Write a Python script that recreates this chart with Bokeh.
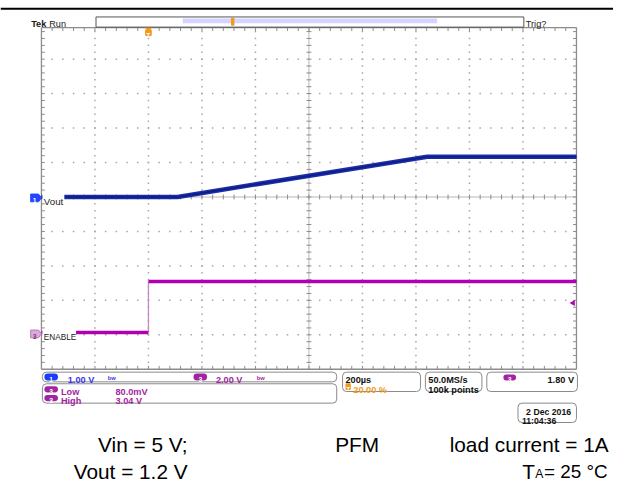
import math
from bokeh.plotting import figure
from bokeh.models import Range1d, Label, BoxAnnotation
from bokeh.embed import file_html
from bokeh.resources import INLINE

# ---------------- data ----------------
vout_t_us = [-400, 109, 1042, 1600]        # CH1 Vout, time in microseconds
vout_v = [0.0, 0.0, 1.17, 1.17]            # volts
enable_t_us = [-400, 0, 0, 1600]           # CH3 ENABLE
enable_v = [0.08, 0.08, 3.04, 3.04]        # volts
trigger_level_v = 1.80
ch1_v_per_div = 1.00
ch3_v_per_div = 2.00
time_per_div_us = 200
trigger_pos_pct = 20.0
ch3_low_text = "80.0mV"
ch3_high_text = "3.04 V"
caption_left = ["Vin = 5 V;", "Vout = 1.2 V"]
caption_mid = "PFM"
caption_right = "load current = 1A"

# ---------------- layout (reference pixel coordinates, 629 x 498) ----------------
W, H = 613, 482
RW, RH = 629, 498
FS = H / RH                   # font scale
GL, GR = 42.0, 591.0          # graticule left/right
GT_VIS = 28.0                 # visible top of graticule
GC_Y = 203.0                  # centre line (CH1 ground)
DIV_Y = 35.6
GB = GC_Y + 5 * DIV_Y
DIV_X = (GR - GL) / 10.0
GC_X = (GL + GR) / 2.0
EN_Y = 344.5                  # CH3 ground marker

def t_of(px):
    return (px - GL) / DIV_X * time_per_div_us - trigger_pos_pct / 100.0 * 10 * time_per_div_us

def v1_of(py):
    return (GC_Y - py) / DIV_Y * ch1_v_per_div

def v3_of(py):
    return (EN_Y - py) / DIV_Y * ch3_v_per_div

p = figure(width=W, height=H, output_backend="svg", toolbar_location=None,
           x_range=Range1d(0, RW), y_range=Range1d(RH, 0),
           x_axis_location=None, y_axis_location=None, min_border=0,
           background_fill_color="white", border_fill_color="white")
p.outline_line_color = None
p.grid.visible = False
p.extra_x_ranges = {"t": Range1d(t_of(0), t_of(RW))}
p.extra_y_ranges = {"v1": Range1d(v1_of(RH), v1_of(0)),
                    "v3": Range1d(v3_of(RH), v3_of(0))}

GRID = "#a6a6a6"
BORDER = "#8c8c8c"

# dotted graticule
dx, dy = [], []
for i in range(1, 10):
    if i == 5:
        continue
    x = GL + i * DIV_X
    for k in range(-25, 26):
        y = GC_Y + k * DIV_Y / 5
        if GT_VIS + 2 < y < GB - 2:
            dx.append(x); dy.append(y)
for j in range(-4, 5):
    if j == 0:
        continue
    y = GC_Y + j * DIV_Y
    for k in range(1, 50):
        dx.append(GL + k * DIV_X / 5); dy.append(y)
p.scatter(dx, dy, marker="square", size=1.5, color=GRID, line_color=None)

# centre cross lines with ticks
p.segment([GC_X, GL], [GT_VIS, GC_Y], [GC_X, GR], [GB, GC_Y], color="#b8b8b8", line_width=1)
sx0, sy0, sx1, sy1 = [], [], [], []
for k in range(-25, 26):
    y = GC_Y + k * DIV_Y / 5
    if GT_VIS < y < GB:
        sx0 += [GC_X - 2.5, GL, GR]; sx1 += [GC_X + 2.5, GL + 3.5, GR - 3.5]
        sy0 += [y, y, y]; sy1 += [y, y, y]
for k in range(1, 50):
    x = GL + k * DIV_X / 5
    sx0 += [x, x, x]; sx1 += [x, x, x]
    sy0 += [GC_Y - 2.5, GT_VIS, GB]; sy1 += [GC_Y + 2.5, GT_VIS + 3.5, GB - 3.5]
p.segment(sx0, sy0, sx1, sy1, color=BORDER, line_width=1)
# border
p.segment([GL, GR, GL, GL], [GT_VIS, GT_VIS, GT_VIS, GB], [GL, GR, GR, GR], [GB, GB, GT_VIS, GB],
          color=BORDER, line_width=1.3)

# ---------------- traces ----------------
p.line(vout_t_us, vout_v, x_range_name="t", y_range_name="v1", color="#1b2ea6", line_width=4.5)
p.line(vout_t_us, vout_v, x_range_name="t", y_range_name="v1", color="#0f1c86", line_width=1.5)
p.line(enable_t_us[1:3], enable_v[1:3], x_range_name="t", y_range_name="v3", color="#c78ac7", line_width=1.3)
p.line(enable_t_us[0:2], enable_v[0:2], x_range_name="t", y_range_name="v3", color="#b000b0", line_width=3.5)
p.line(enable_t_us[2:4], enable_v[2:4], x_range_name="t", y_range_name="v3", color="#b000b0", line_width=3.5)
# trigger level marker on right edge
p.scatter([GR - 3.5], [trigger_level_v], y_range_name="v3", marker="triangle", angle=math.pi / 2,
          size=6, color="#b000b0", line_color=None)

# ---------------- helpers ----------------
def box(l, r, t, b, fill="white", line="#8a8a8a", radius=4, lw=1):
    p.add_layout(BoxAnnotation(left=l, right=r, top=t, bottom=b, fill_color=fill, fill_alpha=1,
                               line_color=line, line_width=lw, line_alpha=1 if line else 0,
                               border_radius=int(radius), level="annotation"))

def txt(x, y, s, color="#000000", size=9.5, bold=False, align="left", font="Liberation Sans"):
    p.add_layout(Label(x=x, y=y, text=s, text_color=color, text_font_size=f"{size * FS:.2f}px",
                       text_font_style="bold" if bold else "normal", text_align=align,
                       text_baseline="alphabetic", text_font=font, level="annotation"))

BLUE_T = "#3838f0"
PURP = "#a324a3"
ORANGE = "#f19b1c"

# channel labels on left
box(43, 65.5, 198.5, 208.5, fill="white", line=None, radius=0)
txt(44.5, 207.5, "Vout", "#222222", 10)
box(43, 77.5, 339.5, 349.5, fill="white", line=None, radius=0)
txt(44.5, 348, "ENABLE", "#222222", 8.5)
p.patch([31, 39, 42, 39, 31], [200, 200, 204, 208, 208], fill_color="#2245ff", line_color="#2245ff")
txt(35, 206.8, "1", "white", 7, True, "center")
p.patch([31, 39, 42, 39, 31], [340.5, 340.5, 344.5, 348.5, 348.5], fill_color="#dcaadc", line_color="#b878b8")
txt(35, 347.3, "3", "#704070", 7, True, "center")

# header
p.segment([0], [8.5], [RW], [8.5], color="black", line_width=2)
txt(31.5, 24, "Tek", "#1a1a1a", 9.5, True)
txt(50, 24, "Run", "#1a1a1a", 9.5)
box(98, 537, 17, 27.5, fill="white", line="#555555", radius=0)
box(187, 448, 18.5, 23.5, fill="#d4d4ff", line=None, radius=0)
p.segment([187], [21], [448], [21], color="#7474ea", line_width=1.5)
p.segment([186, 449], [17, 17], [186, 449], [27.5, 27.5], color="#333333", line_width=2)
box(236.5, 240, 17.5, 26, fill=ORANGE, line=None, radius=1)
txt(539, 24, "Trig?", "#1a1a1a", 9.5)

# trigger position marker on graticule
trig_x = GL + trigger_pos_pct / 100.0 * (GR - GL)
p.patch([trig_x - 4, trig_x + 4, trig_x], [27.5, 27.5, 31], fill_color=ORANGE, line_color=ORANGE)
box(trig_x - 3.5, trig_x + 3.5, 29.5, 37, fill=ORANGE, line=None, radius=2)
txt(trig_x, 35.8, "T", "white", 7, True, "center")

# ---------------- status bar ----------------
def pill(l, r, t, b, fill, label):
    box(l, r, t, b, fill=fill, line=None, radius=4)
    txt((l + r) / 2, b - 1.2, label, "white", 7, True, "center")

box(43, 345, 384, 394)
pill(45, 59, 385.5, 392.5, "#1a3cff", "1")
txt(69, 392.2, f"{ch1_v_per_div:.2f} V", BLUE_T, 9.5, True)
txt(110, 390.5, "bw", BLUE_T, 6, True)
pill(198, 212, 385.5, 392.5, PURP, "3")
txt(221, 392.2, f"{ch3_v_per_div:.2f} V", PURP, 9.5, True)
txt(263, 390.5, "bw", PURP, 6, True)

box(43, 345, 396, 416)
pill(45, 59, 398.5, 405, PURP, "3")
txt(62, 404.5, "Low", PURP, 9.5, True)
txt(118, 404.5, ch3_low_text, PURP, 9.5, True)
pill(45, 59, 407.5, 414, PURP, "3")
txt(62, 413.5, "High", PURP, 9.5, True)
txt(118, 413.5, ch3_high_text, PURP, 9.5, True)

box(351, 431, 384, 404)
txt(354, 392.5, f"{time_per_div_us}µs", "#111111", 9.5, True)
box(354, 359.5, 395.5, 402.5, fill=ORANGE, line=None, radius=1)
txt(356.8, 401.5, "T", "white", 6, True, "center")
txt(362, 402.5, f"{trigger_pos_pct:.2f} %", ORANGE, 9.5, True)

box(436, 494, 384, 404)
txt(439, 392.5, "50.0MS/s", "#111111", 9.5, True)
txt(439, 402.5, "100k points", "#111111", 9.5, True)

box(499, 592, 384, 404)
pill(516, 529, 386.5, 392.5, PURP, "3")
p.line([533, 536, 538.5, 541.5], [393, 393, 387, 387], color="#111111", line_width=1.3)
txt(588.5, 392.5, f"{trigger_level_v:.2f} V", "#111111", 9.5, True, "right")

box(531, 591, 416, 436)
txt(588, 425, "2 Dec  2016", "#111111", 9, True, "right")
txt(535, 434, "11:04:36", "#111111", 9, True)

# ---------------- caption ----------------
CAP = 21.5
txt(192, 459, caption_left[0], "#000000", CAP, False, "right")
txt(192, 486.5, caption_left[1], "#000000", CAP, False, "right")
txt(366, 459, caption_mid, "#000000", CAP, False, "center")
txt(624, 459, caption_right, "#000000", CAP, False, "right")
txt(623, 486.5, "= 25 °C", "#000000", 19.5, False, "right")
txt(557, 489, "A", "#000000", 12.5, False, "right")
txt(548.5, 486.5, "T", "#000000", CAP, False, "right")

open("out.html", "w").write(file_html(p, INLINE))
